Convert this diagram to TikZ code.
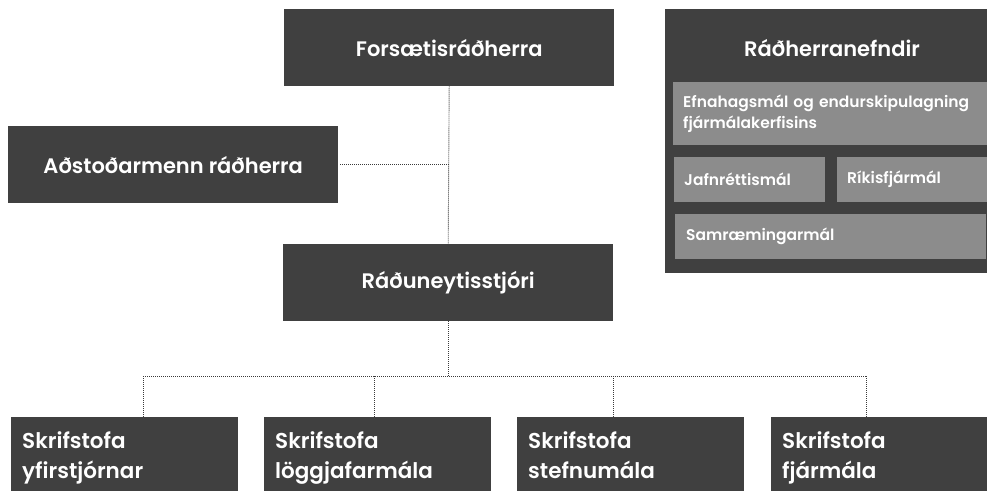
\documentclass[tikz,border=0pt]{standalone}
\usepackage{fontspec}
\setmainfont{Poppins}[BoldFont={Poppins SemiBold}]
\definecolor{boxdark}{HTML}{404040}
\definecolor{boxgray}{HTML}{8C8C8C}
\definecolor{lineclr}{HTML}{3A3A3A}
\tikzset{
  darkbox/.style={rectangle, fill=boxdark, text=white, inner sep=0pt,
    font=\bfseries\fontsize{21}{25}\selectfont, anchor=north west},
  bigbox/.style={darkbox, minimum width=330pt, minimum height=77pt},
  officebox/.style={darkbox, minimum width=227pt, minimum height=80pt,
    text width=205pt, inner xsep=11pt, align=left,
    font=\bfseries\fontsize{21.5}{30}\selectfont},
  graybox/.style={rectangle, fill=boxgray, text=white, inner ysep=0pt,
    inner xsep=10pt, align=left, anchor=north west,
    font=\bfseries\fontsize{15.5}{20.5}\selectfont},
  conn/.style={draw=lineclr, line width=0.9pt, dash pattern=on 1pt off 1pt}
}
\begin{document}
\begin{tikzpicture}[x=1pt,y=-1pt]
\useasboundingbox (0,0) rectangle (987,490);
% main column
\node[bigbox] (fors) at (284,9) {Forsætisráðherra};
\node[bigbox] (adst) at (8,126) {Aðstoðarmenn ráðherra};
\node[bigbox] (radu) at (283,244) {Ráðuneytisstjóri};
% offices
\node[officebox] (b1) at (11,417) {\strut Skrifstofa\\\strut yfirstjórnar};
\node[officebox] (b2) at (264,417) {\strut Skrifstofa\\\strut löggjafarmála};
\node[officebox] (b3) at (517,417) {\strut Skrifstofa\\\strut stefnumála};
\node[officebox] (b4) at (771,417) {\strut Skrifstofa\\\strut fjármála};
% committees panel
\node[darkbox, minimum width=325pt, minimum height=264pt] (panel) at (665,9) {};
\node[text=white, font=\bfseries\fontsize{21}{25}\selectfont, inner sep=0pt] (ptitle) at (832,48) {Ráðherranefndir};
\node[graybox, minimum width=314pt, minimum height=63pt, text width=294pt] (g1) at (673,82) {Efnahagsmál og endurskipulagning\\fjármálakerfisins};
\node[graybox, minimum width=151pt, minimum height=45pt, text width=131pt] (g2) at (674,157) {Jafnréttismál};
\node[graybox, minimum width=150pt, minimum height=45pt, text width=130pt] (g3) at (837,157) {Ríkisfjármál};
\node[graybox, minimum width=311pt, minimum height=45pt, text width=289pt, inner xsep=11pt] (g4) at (675,214) {Samræmingarmál};
% connectors
\draw[conn] (fors.south) -- (radu.north);
\draw[conn] (adst.east) ++(2,0) -- (adst.east -| fors.south);
\path (radu.south) ++(0,55) coordinate (busmid);
\coordinate (j1) at (143.3,376);
\coordinate (j2) at (374.5,376);
\coordinate (j3) at (613.6,376);
\coordinate (j4) at (866.7,376);
\draw[conn] (radu.south) -- (busmid);
\draw[conn] (j1) -- (j4);
\draw[conn] (j1) -- (j1 |- b1.north);
\draw[conn] (j2) -- (j2 |- b2.north);
\draw[conn] (j3) -- (j3 |- b3.north);
\draw[conn] (j4) -- (j4 |- b4.north);
\end{tikzpicture}
\end{document}
